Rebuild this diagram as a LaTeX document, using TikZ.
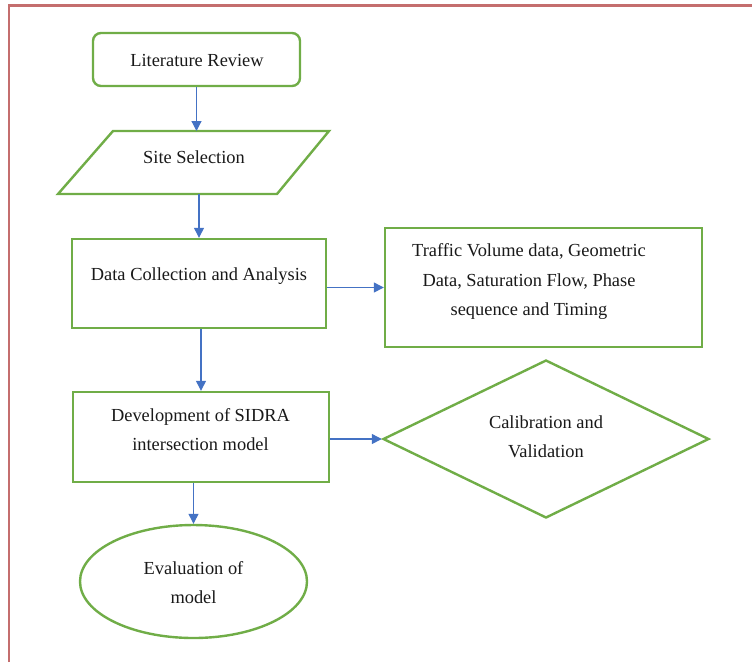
\documentclass[tikz,border=0pt]{standalone}
\usepackage{fontspec}
\setmainfont{Liberation Serif}
\usetikzlibrary{arrows.meta,shapes.geometric}
\definecolor{boxgreen}{RGB}{112,173,71}
\definecolor{arrowblue}{RGB}{68,114,196}
\definecolor{framered}{RGB}{196,110,110}
\def\PX{0.75pt}
\tikzset{
  shapebox/.style={draw=boxgreen, line width=1.8pt, fill=white, inner sep=0pt},
  txt/.style={font=\fontsize{13.8}{22}\selectfont, align=center, inner sep=0pt, text=black!90},
  flow/.style={draw=arrowblue, line width=0.9pt, -{Triangle[length=7.5pt,width=7.5pt]}}
}
\begin{document}
\begin{tikzpicture}[x=0.75pt,y=-0.75pt]
\useasboundingbox (0,0) rectangle (752,662);
\draw[framered, line width=1.6pt] (9,662) -- (9,5.5) -- (752,5.5);

\node[shapebox, rectangle, rounded corners=6pt, minimum width=207*\PX, minimum height=53*\PX] (lit) at (196.5,59.5) {};
\node[txt] (litT) at (197,60) {Literature Review};

\coordinate (ssTL) at (113,131);
\coordinate (ssTR) at (329,131);
\coordinate (ssBR) at (277,194);
\coordinate (ssBL) at (58,194);
\draw[shapebox] (ssTL) -- (ssTR) -- (ssBR) -- (ssBL) -- cycle;
\node[txt] (ssT) at (194,157) {Site Selection};
\coordinate (ssN) at (196.5,131);
\coordinate (ssS) at (199,194);

\node[shapebox, rectangle, minimum width=254*\PX, minimum height=89*\PX] (dca) at (199,283.5) {};
\node[txt] (dcaT) at (199,276) {Data Collection and Analysis};

\node[shapebox, rectangle, minimum width=317*\PX, minimum height=119*\PX] (tv) at (543.5,287.5) {};
\node[txt] (tvT) at (529,281.5) {Traffic Volume data, Geometric\\Data, Saturation Flow, Phase\\sequence and Timing};

\node[shapebox, rectangle, minimum width=256*\PX, minimum height=90*\PX] (sid) at (201,437) {};
\node[txt] (sidT) at (200.5,429.5) {Development of SIDRA\\intersection model};

\node[shapebox, diamond, minimum width=326*\PX, minimum height=158*\PX] (cal) at (546,439) {};
\node[txt] (calT) at (546,436.5) {Calibration and\\Validation};

\node[shapebox, ellipse, minimum width=227*\PX, minimum height=113*\PX] (ev) at (193.5,581.5) {};
\node[txt] (evT) at (193.5,582.5) {Evaluation of\\model};

\draw[flow] (lit.south) -- (ssN);
\draw[flow] (ssS) -- (dca.north);
\draw[flow] (dca.east |- tv.west) -- (tv.west);
\draw[flow] (sid.north |- dca.south) -- (sid.north);
\draw[flow] (sid.east |- cal.west) -- (cal.west);
\draw[flow] (ev.north |- sid.south) -- (ev.north);
\end{tikzpicture}
\end{document}
